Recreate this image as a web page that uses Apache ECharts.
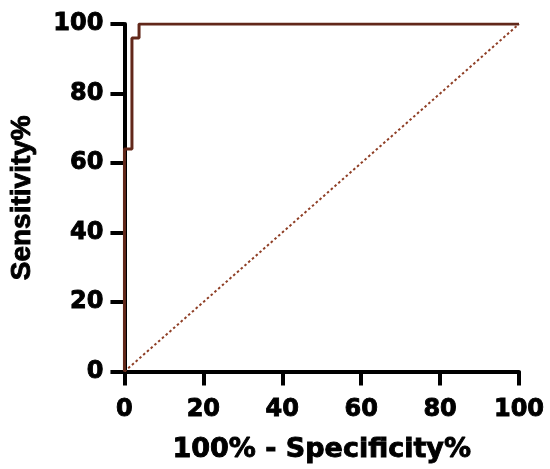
<!DOCTYPE html>
<html>
<head>
<meta charset="utf-8">
<script src="https://cdn.jsdelivr.net/npm/echarts@6/dist/echarts.min.js"></script>
<style>html,body{margin:0;padding:0;background:#fff}#c{width:550px;height:469px}</style>
</head>
<body>
<div id="c"></div>
<script>
// ROC curve: 100% - Specificity% (x) vs Sensitivity% (y)
var rocX = [0, 0, 1.9, 1.9, 3.7, 3.7, 100];
var rocY = [0, 64, 64, 96, 96, 100, 100];
// reference (chance) line
var refX = [0, 100];
var refY = [0, 100];
var xTicks = [0, 20, 40, 60, 80, 100];
var yTicks = [0, 20, 40, 60, 80, 100];

function pairs(xs, ys) { return xs.map(function (x, i) { return [x, ys[i]]; }); }

var chart = echarts.init(document.getElementById('c'), null, { renderer: 'canvas' });
var heavy = { textBorderColor: '#000', textBorderWidth: 0.9 };
var tickFont = Object.assign({ fontFamily: 'DejaVu Sans', fontWeight: 'bold', fontSize: 24, color: '#000' }, heavy);
chart.setOption({
  animation: false,
  backgroundColor: '#fff',
  grid: { left: 122, right: 31, top: 24, bottom: 97 },
  xAxis: {
    type: 'value', min: xTicks[0], max: xTicks[xTicks.length - 1], interval: 20,
    name: '100% - Specificity%', nameLocation: 'middle', nameGap: 65,
    nameTextStyle: Object.assign({ fontFamily: 'DejaVu Sans', fontWeight: 'bold', fontSize: 27, color: '#000' }, heavy),
    axisLine: { lineStyle: { color: '#000', width: 4 } },
    axisTick: { length: 14, lineStyle: { color: '#000', width: 4 } },
    axisLabel: Object.assign({ margin: 26 }, tickFont),
    splitLine: { show: false }
  },
  yAxis: {
    type: 'value', min: yTicks[0], max: yTicks[yTicks.length - 1], interval: 20,
    name: 'Sensitivity%', nameLocation: 'middle', nameGap: 88,
    nameTextStyle: Object.assign({ fontFamily: 'Liberation Sans', fontWeight: 'bold', fontSize: 28, color: '#000' }, heavy),
    axisLine: { lineStyle: { color: '#000', width: 4 } },
    axisTick: { length: 14, lineStyle: { color: '#000', width: 4 } },
    axisLabel: Object.assign({ margin: 21 }, tickFont),
    splitLine: { show: false }
  },
  series: [
    {
      type: 'line', data: pairs(refX, refY), symbol: 'none', z: 3,
      lineStyle: { color: '#8f3f26', width: 2, type: [2.5, 2.5] }
    },
    {
      type: 'line', data: pairs(rocX, rocY), symbol: 'none', z: 5,
      lineStyle: { color: '#62281a', width: 3 }
    }
  ]
});
</script>
</body>
</html>
